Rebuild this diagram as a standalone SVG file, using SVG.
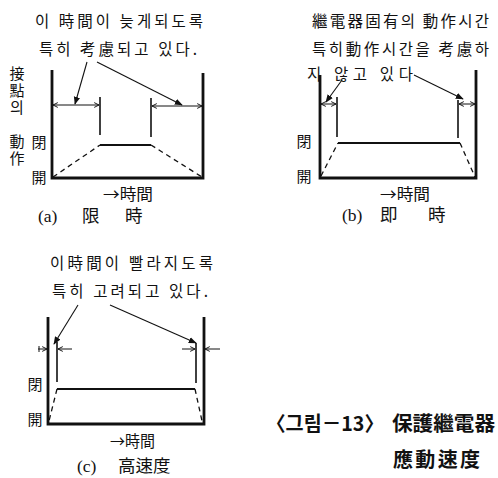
<svg xmlns="http://www.w3.org/2000/svg" width="498" height="478" viewBox="0 0 498 478">
<style>
text{font-family:"Noto Sans CJK KR","Liberation Serif",sans-serif;fill:#111;dominant-baseline:central}
.t{font-size:15.5px}
.lab{font-size:15px;text-anchor:middle}
.vert{font-size:15px;writing-mode:vertical-rl;text-orientation:upright;letter-spacing:2px}
.cap{font-family:"Liberation Serif","Noto Sans CJK KR",serif;font-size:17.5px}
.big{font-size:20px;font-weight:bold}
.frame{fill:none;stroke:#111;stroke-width:2.8;stroke-linejoin:miter}
.inner{stroke:#111;stroke-width:1.6}
.plat{stroke:#111;stroke-width:2.2}
.dash{stroke:#111;stroke-width:1.3;stroke-dasharray:5 4}
.ptr{stroke:#111;stroke-width:1.1;fill:none;marker-end:url(#head)}
.dim{stroke:#111;stroke-width:1;marker-start:url(#chev);marker-end:url(#chev)}
.dim1{stroke:#111;stroke-width:1;marker-end:url(#chev)}
.tick{stroke:#111;stroke-width:1}
</style>
<defs>
<marker id="head" viewBox="0 0 10 10" refX="9" refY="5" markerWidth="8" markerHeight="8" markerUnits="userSpaceOnUse" orient="auto">
<path d="M0,1 L10,5 L0,9 Z" fill="#111"/>
</marker>
<marker id="chev" viewBox="0 0 10 10" refX="9" refY="5" markerWidth="6" markerHeight="6" markerUnits="userSpaceOnUse" orient="auto-start-reverse">
<path d="M1,1 L9,5 L1,9" fill="none" stroke="#111" stroke-width="1.6"/>
</marker>
</defs>

<!-- Panel (a) -->
<g id="panel-a">
<text class="t" x="35" y="20" textLength="168" lengthAdjust="spacing">이 時間이 늦게되도록</text>
<text class="t" x="39" y="48" textLength="158" lengthAdjust="spacing">특히 考慮되고 있다.</text>
<text class="vert" x="17" y="66">接點의</text>
<text class="vert" x="17" y="134">動作</text>
<text class="lab" x="39" y="141">閉</text>
<text class="lab" x="39" y="176">開</text>
<path class="frame" d="M52,70 V178 H203 V73"/>
<line class="inner" x1="100" y1="97" x2="100" y2="135"/>
<line class="inner" x1="151" y1="98" x2="151" y2="137"/>
<line class="plat" x1="100" y1="145" x2="151" y2="145"/>
<line class="dash" x1="53" y1="177" x2="100" y2="145"/>
<line class="dash" x1="151" y1="145" x2="202" y2="177"/>
<text class="t" x="103" y="193" textLength="50" lengthAdjust="spacingAndGlyphs">→時間</text>
<text class="cap" x="38" y="216">(a)<tspan x="82">限</tspan><tspan x="125">時</tspan></text>
</g>

<!-- Panel (b) -->
<g id="panel-b">
<text class="t" x="312" y="20" textLength="177" lengthAdjust="spacing">繼電器固有의 動作시간</text>
<text class="t" x="312" y="48" textLength="177" lengthAdjust="spacing">특히動作시간을 考慮하</text>
<text class="t" x="307" y="73" textLength="106" lengthAdjust="spacing">지 않고 있다</text>
<text class="lab" x="304" y="140">閉</text>
<text class="lab" x="304" y="175">開</text>
<path class="frame" d="M320,75 V178 H476 V70"/>
<line class="inner" x1="337" y1="97" x2="337" y2="137"/>
<line class="inner" x1="458" y1="100" x2="458" y2="138"/>
<line class="plat" x1="338" y1="143" x2="460" y2="143"/>
<line class="dash" x1="321" y1="176" x2="338" y2="143"/>
<line class="dash" x1="460" y1="143" x2="475" y2="177"/>
<text class="t" x="380" y="193" textLength="50" lengthAdjust="spacingAndGlyphs">→時間</text>
<text class="cap" x="342" y="215">(b)<tspan x="380">即</tspan><tspan x="428">時</tspan></text>
</g>

<!-- Panel (c) -->
<g id="panel-c">
<text class="t" x="50" y="262" textLength="163" lengthAdjust="spacing">이時間이 빨라지도록</text>
<text class="t" x="52" y="290" textLength="156" lengthAdjust="spacing">특히 고려되고 있다.</text>
<text class="lab" x="35" y="383">閉</text>
<text class="lab" x="35" y="418">開</text>
<path class="frame" d="M48,317 V424 H204 V317"/>
<line class="inner" x1="57" y1="342" x2="57" y2="382"/>
<line class="inner" x1="196" y1="343" x2="196" y2="383"/>
<line class="plat" x1="57" y1="389" x2="195" y2="389"/>
<line class="dash" x1="57" y1="389" x2="49" y2="421"/>
<line class="dash" x1="195" y1="389" x2="202" y2="421"/>
<text class="t" x="110" y="440" textLength="45" lengthAdjust="spacingAndGlyphs">→時間</text>
<text class="cap" x="77" y="466">(c)<tspan x="118">高速度</tspan></text>
</g>

<!-- Caption -->
<g id="caption">
<text class="big" x="266" y="422"><tspan textLength="118" lengthAdjust="spacingAndGlyphs">〈그림－13〉</tspan><tspan x="392" textLength="103" lengthAdjust="spacingAndGlyphs">保護繼電器</tspan></text>
<text class="big" x="393" y="458" textLength="87" lengthAdjust="spacing">應動速度</text>
</g>

<!-- Connectors -->
<g id="connectors">
<line class="ptr" x1="87" y1="62" x2="75" y2="104"/>
<line class="ptr" x1="97" y1="62" x2="182" y2="105"/>
<line class="dim" x1="53" y1="105" x2="99" y2="105"/>
<line class="dim" x1="152" y1="106" x2="202" y2="106"/>

<line class="ptr" x1="342" y1="80" x2="326" y2="102"/>
<line class="ptr" x1="414" y1="75" x2="463" y2="99"/>
<line class="dim" x1="321" y1="104" x2="336" y2="104"/>
<line class="dim" x1="459" y1="104" x2="475" y2="104"/>

<line class="ptr" x1="78" y1="305" x2="54" y2="344"/>
<line class="ptr" x1="110" y1="305" x2="196" y2="343"/>
<line class="dim1" x1="38" y1="349" x2="47" y2="349"/>
<line class="tick" x1="39" y1="346" x2="39" y2="352"/>
<line class="dim1" x1="72" y1="349" x2="58" y2="349"/>
<line class="dim1" x1="182" y1="349" x2="195" y2="349"/>
<line class="dim1" x1="220" y1="349" x2="205" y2="349"/>
</g>
</svg>
